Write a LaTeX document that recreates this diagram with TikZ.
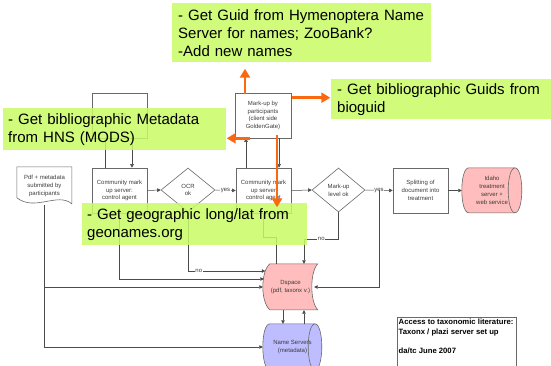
\documentclass[tikz,border=0pt]{standalone}
\usepackage{fontspec}
\setmainfont{Liberation Sans}
\usetikzlibrary{arrows.meta,calc,shapes.geometric,backgrounds}
\definecolor{greenbox}{RGB}{200,250,100}
\definecolor{orangearr}{RGB}{250,105,15}
\definecolor{pinkfill}{RGB}{255,189,189}
\definecolor{bluefill}{RGB}{189,189,255}
\definecolor{linegray}{RGB}{75,75,75}
\definecolor{boxgray}{RGB}{105,105,105}
\definecolor{txtgray}{RGB}{60,60,60}
\begin{document}
\begin{tikzpicture}[x=1pt,y=-1pt,
  small/.style={font=\fontsize{6}{7.8}\selectfont, text=txtgray, align=center},
  box/.style={draw=boxgray, line width=0.6pt, minimum width=55pt, minimum height=45pt, inner sep=0pt, small},
  dia/.style={draw=boxgray, line width=0.6pt, diamond, aspect=1.2, minimum width=54pt, minimum height=44pt, inner sep=0pt, small},
  shapebox/.style={minimum width=55pt, minimum height=45pt, inner sep=0pt, small},
  shapeline/.style={draw=boxgray, line width=0.6pt},
  conn/.style={draw=linegray, line width=0.5pt},
  arr/.style={conn, -{Triangle[length=3.5pt,width=3.5pt]}},
  lbl/.style={font=\fontsize{6}{7}\selectfont, fill=white, inner sep=0.6pt, text=txtgray},
  gbox/.style={fill=greenbox, fill opacity=0.85, text opacity=1, anchor=north west, align=left, font=\fontsize{15}{18}\selectfont, inner xsep=5pt, inner ysep=0pt},
  oarr/.style={draw=orangearr, line width=2.6pt, -{Triangle[length=9pt,width=10pt]}},
]
\useasboundingbox (0,0) rectangle (551,365);

% ---- diagram nodes ----
\node[box] (ocrbox) at (119.5,115.5) {OCR};
\node[box] (box1) at (119.5,190.5) {Community mark\\up server:\\control agent};
\node[dia] (ocrok) at (188,190) {OCR\\ok};
\node[box] (box2) at (263.5,190.5) {Community mark\\up server\\control agent};
\node[box, minimum width=56pt] (markup) at (263,115.5) {Mark-up by\\participants\\(client side\\GoldenGate)};
\node[dia, minimum width=53pt] (levelok) at (338.5,190) {Mark-up\\level ok};
\node[box] (split) at (420.5,190.5) {Splitting of\\document into\\treatment};
\node[shapebox, minimum width=60pt] (idaho) at (492,190.5) {Idaho\\treatment\\server +\\web service};
\node[shapebox, minimum height=46pt] (dspace) at (290.5,287) {Dspace\\(pdf, taxonx v.)};
\node[shapebox, minimum width=59pt, minimum height=46pt] (ns) at (292.5,347) {Name Servers\\(metadata)};
\node[shapebox, minimum height=38pt] (pdf) at (44.5,186) {Pdf + metadata\\submitted by\\participants};

\begin{scope}[on background layer]
  % Idaho cylinder
  \path[shapeline, fill=pinkfill] ($(idaho.north west)+(7,0)$) -- ++(46,0)
    .. controls +(9.33,0) and +(9.33,0) .. ++(0,45) -- ++(-46,0)
    .. controls +(-9.33,0) and +(-9.33,0) .. ++(0,-45) -- cycle;
  \draw[shapeline] ($(idaho.north east)+(-7,0)$) .. controls +(-9.33,0) and +(-9.33,0) .. ++(0,45);
  % Name servers cylinder
  \path[shapeline, fill=bluefill] ($(ns.north west)+(7,0)$) -- ++(45,0)
    .. controls +(9.33,0) and +(9.33,0) .. ++(0,46) -- ++(-45,0)
    .. controls +(-9.33,0) and +(-9.33,0) .. ++(0,-46) -- cycle;
  \draw[shapeline] ($(ns.north east)+(-7,0)$) .. controls +(-9.33,0) and +(-9.33,0) .. ++(0,46);
  % Dspace stored data shape
  \path[shapeline, fill=pinkfill] ($(dspace.north west)+(7,0)$) -- ++(48,0)
    .. controls +(-8,8) and +(-8,-8) .. ++(0,46) -- ++(-48,0)
    .. controls +(-9.33,-8) and +(-9.33,8) .. ++(0,-46) -- cycle;
  % Pdf document shape
  \path[shapeline, fill=white] (pdf.north west) -- ++(55,0) -- ++(0,37)
    .. controls +(-14,-12) and +(18,14) .. ++(-55,-6) -- cycle;
\end{scope}

% ---- connectors ----
\draw[conn] ($(box1.north)+(-14.5,0)$) -- ($(ocrbox.south)+(-14.5,0)$);
\draw[arr] ($(ocrbox.south)+(12.5,0)$) -- ($(box1.north)+(12.5,0)$);
\draw[arr] (box1.east) -- (ocrok.west);
\draw[arr] (ocrok.east) -- node[lbl]{yes} (box2.west);
\draw[arr] (ocrok.south) |- node[lbl,pos=0.57]{no} ($(dspace.west)+(2.5,-16)$);
\draw[arr] (box1.south) |- ($(dspace.west)+(1,-8)$);
\draw[arr] (pdf.south) |- (dspace.west);
\draw[arr] (pdf.south) |- (ns.west);
\draw[arr] ($(box2.north)+(-17.5,0)$) -- ($(markup.south)+(-17,0)$);
\draw[arr] ($(markup.south)+(16,0)$) -- ($(box2.north)+(15.5,0)$);
\draw[arr] (box2.east) -- (levelok.west);
\draw[arr] (levelok.east) -- node[lbl]{yes} (split.west);
\coordinate (j1) at ($(levelok.east)+(14,0)$);
\draw[arr] (j1) |- ($(dspace.east)+(-4,0)$);
\draw[arr] (levelok.south) |- node[lbl,pos=0.75]{no} ($(dspace.north)+(13.5,-25)$) -- ($(dspace.north)+(13.5,0)$);
\draw[conn] (box2.south) -- ++(0,24) -| ($(dspace.north)+(-14.5,0)$);
\draw[arr] (split.east) -- (idaho.west);
\draw[arr] ($(dspace.south)+(-7.5,0)$) -- ($(ns.north)+(-9.5,0)$);
\draw[arr] ($(ns.north)+(11.5,0)$) -- ($(dspace.south)+(13.5,0)$);

% ---- note box ----
\node[anchor=north west, align=left, inner sep=0pt, font=\bfseries\fontsize{7.7}{10}\selectfont] (note) at (398.5,319) {Access to taxonomic literature:\\Taxonx / plazi server set up\\[9pt]da/tc June 2007};
\draw[boxgray, line width=0.6pt] ($(note.north west)+(-1.5,-2)$) rectangle ++(119,60);

% ---- green annotation boxes ----
\node[gbox, inner xsep=6pt, minimum width=259pt, minimum height=59pt, text width=247pt] (g1) at (172,3) {- Get Guid from Hymenoptera Name\\Server for names; ZooBank?\\-Add new names};
\node[gbox, inner xsep=6pt, minimum width=220pt, minimum height=40pt, text width=208pt] (g2) at (331,79) {- Get bibliographic Guids from\\bioguid};
\node[gbox, minimum width=223pt, minimum height=42pt, text width=213pt] (g3) at (3,108) {- Get bibliographic Metadata\\from HNS (MODS)};
\node[gbox, minimum width=225pt, minimum height=42pt, text width=215pt] (g4) at (82,203) {- Get geographic long/lat from\\geonames.org};

% ---- orange arrows ----
\draw[oarr] ($(markup.north)+(-18,1)$) -- ++(0,-25);
\draw[oarr] ($(markup.north east)+(1,5)$) -- ++(38,0);
\draw[oarr] ($(markup.south west)+(15,0)$) -- ++(-23,0);
\draw[oarr] ($(markup.south)+(14,-3)$) -- ++(0,72);
\end{tikzpicture}
\end{document}
